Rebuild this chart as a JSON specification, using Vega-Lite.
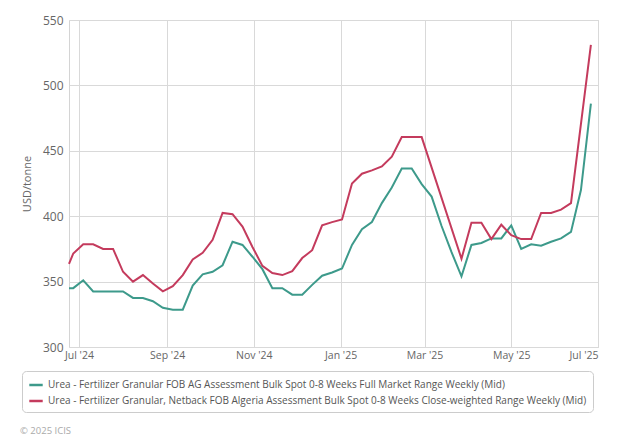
{
  "$schema": "https://vega.github.io/schema/vega-lite/v6.json",
  "width": 529,
  "height": 327,
  "autosize": {"type": "none"},
  "padding": {"left": 69, "top": 20, "right": 20, "bottom": 100},
  "background": "white",
  "title": {"text": "© 2025 ICIS", "orient": "bottom", "anchor": "start", "frame": "group", "fontSize": 9.5, "fontWeight": "normal", "color": "#aaaaaa", "font": "Open Sans", "dx": -49, "offset": 13},
  "config": {
    "font": "Open Sans",
    "view": {"stroke": "#d4d4d4", "strokeWidth": 1},
    "axis": {"labelColor": "#666666", "labelFontSize": 11, "labelFont": "Open Sans", "gridColor": "#d9d9d9", "gridWidth": 1, "domain": false, "ticks": false, "titleFont": "Open Sans", "titleFontWeight": "normal", "titleColor": "#666666", "titleFontSize": 11}
  },
  "data": {
    "values": [
      {"d": "2024-06-24", "s": "AG", "v": 345},
      {"d": "2024-06-27", "s": "AG", "v": 345},
      {"d": "2024-07-04", "s": "AG", "v": 351},
      {"d": "2024-07-11", "s": "AG", "v": 342.5},
      {"d": "2024-07-18", "s": "AG", "v": 342.5},
      {"d": "2024-07-25", "s": "AG", "v": 342.5},
      {"d": "2024-08-01", "s": "AG", "v": 342.5},
      {"d": "2024-08-08", "s": "AG", "v": 337.5},
      {"d": "2024-08-15", "s": "AG", "v": 337.5},
      {"d": "2024-08-22", "s": "AG", "v": 335},
      {"d": "2024-08-29", "s": "AG", "v": 330},
      {"d": "2024-09-05", "s": "AG", "v": 328.5},
      {"d": "2024-09-12", "s": "AG", "v": 328.5},
      {"d": "2024-09-19", "s": "AG", "v": 347},
      {"d": "2024-09-26", "s": "AG", "v": 355.5},
      {"d": "2024-10-03", "s": "AG", "v": 357.5},
      {"d": "2024-10-10", "s": "AG", "v": 362.5},
      {"d": "2024-10-17", "s": "AG", "v": 380.5},
      {"d": "2024-10-24", "s": "AG", "v": 378},
      {"d": "2024-10-31", "s": "AG", "v": 369},
      {"d": "2024-11-07", "s": "AG", "v": 359.5},
      {"d": "2024-11-14", "s": "AG", "v": 345},
      {"d": "2024-11-21", "s": "AG", "v": 345},
      {"d": "2024-11-28", "s": "AG", "v": 340},
      {"d": "2024-12-05", "s": "AG", "v": 340},
      {"d": "2024-12-12", "s": "AG", "v": 347.5},
      {"d": "2024-12-19", "s": "AG", "v": 354.5},
      {"d": "2024-12-26", "s": "AG", "v": 357},
      {"d": "2025-01-02", "s": "AG", "v": 360},
      {"d": "2025-01-09", "s": "AG", "v": 378},
      {"d": "2025-01-16", "s": "AG", "v": 390},
      {"d": "2025-01-23", "s": "AG", "v": 395.5},
      {"d": "2025-01-30", "s": "AG", "v": 410},
      {"d": "2025-02-06", "s": "AG", "v": 422},
      {"d": "2025-02-13", "s": "AG", "v": 436.5},
      {"d": "2025-02-20", "s": "AG", "v": 436.5},
      {"d": "2025-02-27", "s": "AG", "v": 424.5},
      {"d": "2025-03-06", "s": "AG", "v": 415},
      {"d": "2025-03-13", "s": "AG", "v": 392.5},
      {"d": "2025-03-20", "s": "AG", "v": 372.5},
      {"d": "2025-03-27", "s": "AG", "v": 354},
      {"d": "2025-04-03", "s": "AG", "v": 378},
      {"d": "2025-04-10", "s": "AG", "v": 379.5},
      {"d": "2025-04-17", "s": "AG", "v": 383},
      {"d": "2025-04-24", "s": "AG", "v": 383},
      {"d": "2025-05-01", "s": "AG", "v": 393},
      {"d": "2025-05-08", "s": "AG", "v": 375},
      {"d": "2025-05-15", "s": "AG", "v": 378.5},
      {"d": "2025-05-22", "s": "AG", "v": 377.5},
      {"d": "2025-05-29", "s": "AG", "v": 380.5},
      {"d": "2025-06-05", "s": "AG", "v": 383},
      {"d": "2025-06-12", "s": "AG", "v": 388},
      {"d": "2025-06-19", "s": "AG", "v": 420},
      {"d": "2025-06-26", "s": "AG", "v": 486},
      {"d": "2024-06-24", "s": "DZ", "v": 363.5},
      {"d": "2024-06-27", "s": "DZ", "v": 371.5},
      {"d": "2024-07-04", "s": "DZ", "v": 378.5},
      {"d": "2024-07-11", "s": "DZ", "v": 378.5},
      {"d": "2024-07-18", "s": "DZ", "v": 375},
      {"d": "2024-07-25", "s": "DZ", "v": 375},
      {"d": "2024-08-01", "s": "DZ", "v": 357.5},
      {"d": "2024-08-08", "s": "DZ", "v": 350},
      {"d": "2024-08-15", "s": "DZ", "v": 355},
      {"d": "2024-08-22", "s": "DZ", "v": 348.5},
      {"d": "2024-08-29", "s": "DZ", "v": 342.5},
      {"d": "2024-09-05", "s": "DZ", "v": 346.5},
      {"d": "2024-09-12", "s": "DZ", "v": 355},
      {"d": "2024-09-19", "s": "DZ", "v": 367},
      {"d": "2024-09-26", "s": "DZ", "v": 372},
      {"d": "2024-10-03", "s": "DZ", "v": 382},
      {"d": "2024-10-10", "s": "DZ", "v": 402.5},
      {"d": "2024-10-17", "s": "DZ", "v": 401.5},
      {"d": "2024-10-24", "s": "DZ", "v": 392},
      {"d": "2024-10-31", "s": "DZ", "v": 376.5},
      {"d": "2024-11-07", "s": "DZ", "v": 362},
      {"d": "2024-11-14", "s": "DZ", "v": 356.5},
      {"d": "2024-11-21", "s": "DZ", "v": 355},
      {"d": "2024-11-28", "s": "DZ", "v": 358},
      {"d": "2024-12-05", "s": "DZ", "v": 368},
      {"d": "2024-12-12", "s": "DZ", "v": 374},
      {"d": "2024-12-19", "s": "DZ", "v": 393},
      {"d": "2024-12-26", "s": "DZ", "v": 395.5},
      {"d": "2025-01-02", "s": "DZ", "v": 397.5},
      {"d": "2025-01-09", "s": "DZ", "v": 425},
      {"d": "2025-01-16", "s": "DZ", "v": 432.5},
      {"d": "2025-01-23", "s": "DZ", "v": 435},
      {"d": "2025-01-30", "s": "DZ", "v": 438},
      {"d": "2025-02-06", "s": "DZ", "v": 445.5},
      {"d": "2025-02-13", "s": "DZ", "v": 460.5},
      {"d": "2025-02-20", "s": "DZ", "v": 460.5},
      {"d": "2025-02-27", "s": "DZ", "v": 460.5},
      {"d": "2025-03-27", "s": "DZ", "v": 367.5},
      {"d": "2025-04-03", "s": "DZ", "v": 395},
      {"d": "2025-04-10", "s": "DZ", "v": 395},
      {"d": "2025-04-17", "s": "DZ", "v": 382.5},
      {"d": "2025-04-24", "s": "DZ", "v": 393.5},
      {"d": "2025-05-01", "s": "DZ", "v": 385.5},
      {"d": "2025-05-08", "s": "DZ", "v": 382.5},
      {"d": "2025-05-15", "s": "DZ", "v": 382.5},
      {"d": "2025-05-22", "s": "DZ", "v": 402.5},
      {"d": "2025-05-29", "s": "DZ", "v": 402.5},
      {"d": "2025-06-05", "s": "DZ", "v": 405},
      {"d": "2025-06-12", "s": "DZ", "v": 410},
      {"d": "2025-06-26", "s": "DZ", "v": 531}
    ]
  },
  "mark": {"type": "line", "strokeWidth": 2, "interpolate": "linear"},
  "encoding": {
    "x": {
      "field": "d",
      "type": "temporal",
      "scale": {"type": "utc", "domain": [{"year": 2024, "month": 6, "date": 24, "utc": true}, {"year": 2025, "month": 7, "date": 1, "utc": true}]},
      "axis": {
        "title": null,
        "labelExpr": "utcFormat(datum.value, \"%b '%y\")",
        "labelPadding": 3,
        "labelFontSize": 10.5,
        "values": [
          {"year": 2024, "month": 7, "date": 1, "utc": true},
          {"year": 2024, "month": 9, "date": 1, "utc": true},
          {"year": 2024, "month": 11, "date": 1, "utc": true},
          {"year": 2025, "month": 1, "date": 1, "utc": true},
          {"year": 2025, "month": 3, "date": 1, "utc": true},
          {"year": 2025, "month": 5, "date": 1, "utc": true},
          {"year": 2025, "month": 7, "date": 1, "utc": true}
        ]
      }
    },
    "y": {
      "field": "v",
      "type": "quantitative",
      "scale": {"domain": [300, 550], "nice": false, "zero": false},
      "axis": {"title": "USD/tonne", "values": [300, 350, 400, 450, 500, 550], "labelPadding": 6, "titlePadding": 10, "labelFontSize": 12}
    },
    "color": {
      "field": "s",
      "type": "nominal",
      "scale": {"domain": ["AG", "DZ"], "range": ["#3d9a8b", "#c43b5d"]},
      "legend": {
        "title": null,
        "orient": "none",
        "legendX": -47,
        "legendY": 351,
        "direction": "vertical",
        "fillColor": "white",
        "strokeColor": "#cccccc",
        "cornerRadius": 4,
        "padding": 6,
        "rowPadding": 3,
        "symbolType": "stroke",
        "symbolSize": 180,
        "symbolStrokeWidth": 2.5,
        "labelFontSize": 10,
        "labelColor": "#555555",
        "labelFont": "Open Sans",
        "labelLimit": 700,
        "labelExpr": "datum.value == 'AG' ? 'Urea - Fertilizer Granular FOB AG Assessment Bulk Spot 0-8 Weeks Full Market Range Weekly (Mid)' : 'Urea - Fertilizer Granular, Netback FOB Algeria Assessment Bulk Spot 0-8 Weeks Close-weighted Range Weekly (Mid)'"
      }
    }
  }
}
